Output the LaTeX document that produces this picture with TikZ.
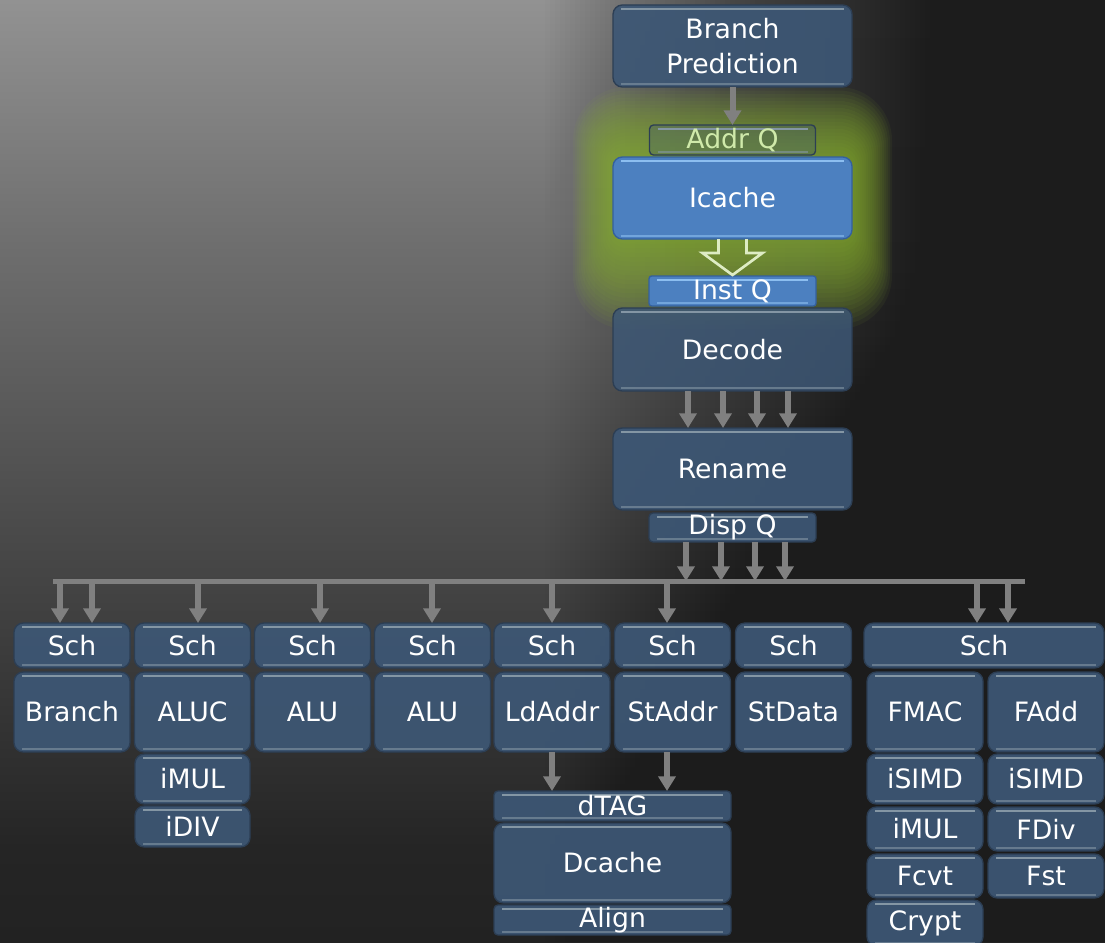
\documentclass[tikz,border=0pt]{standalone}
\usepackage{fontspec}
\setmainfont{DejaVu Sans}
\usetikzlibrary{arrows.meta,positioning,calc}

% --- FONDO ---
\definecolor{bgdark}{RGB}{28,28,28}
\pgfdeclareverticalshading{fondo}{100bp}{%
  color(0bp)=(rgb,255:red,34;green,34;blue,34); color(25bp)=(rgb,255:red,34;green,34;blue,34);
  color(30bp)=(rgb,255:red,37;green,37;blue,37); color(46bp)=(rgb,255:red,72;green,72;blue,72);
  color(62bp)=(rgb,255:red,110;green,110;blue,110); color(75bp)=(rgb,255:red,146;green,146;blue,146);
  color(100bp)=(rgb,255:red,146;green,146;blue,146)}

\begin{document}
\begin{tikzpicture}[
        x=0.75pt, y=-0.75pt, % un pixel del boceto
        >={Triangle[width=12.75pt,length=11pt]},
        font=\fontsize{20}{24}\selectfont,
        sz/.style 2 args={minimum width=#1*0.75pt, minimum height=#2*0.75pt},
        hl/.style={draw=blkhl, line width=1.6pt},
        blk/.style={draw=blkedge, line width=1pt, fill=blkfill, fill opacity=0.92,
            text opacity=1, rounded corners=7pt, text=white, inner sep=0pt, outer sep=0pt,
            path picture={
              \draw[hl] ([xshift=6pt,yshift=-3pt]path picture bounding box.north west)
                -- ([xshift=-6pt,yshift=-3pt]path picture bounding box.north east);
              \draw[hl, opacity=0.6] ([xshift=6pt,yshift=2pt]path picture bounding box.south west)
                -- ([xshift=-6pt,yshift=2pt]path picture bounding box.south east);}},
        blkq/.style={blk, rounded corners=3pt},
        cache/.style={blk, fill=cacheblue, draw=cacheedge, fill opacity=1,
            hl/.style={draw=cachehl, line width=1.6pt}},
        arr/.style={->, draw=arrgray, line width=4.5pt},
        bus/.style={draw=arrgray, line width=3.75pt}
    ]

        % --- COLORES ---
        \definecolor{blkfill}{RGB}{61,87,117}
        \definecolor{blkedge}{RGB}{44,62,84}
        \definecolor{blkhl}{RGB}{132,150,164}
        \definecolor{cacheblue}{RGB}{76,128,192}
        \definecolor{cacheedge}{RGB}{52,96,158}
        \definecolor{cachehl}{RGB}{140,190,240}
        \definecolor{glowgreen}{RGB}{140,180,50}
        \definecolor{addrtext}{RGB}{208,234,170}
        \definecolor{hollow}{RGB}{222,236,196}
        \definecolor{arrgray}{RGB}{128,128,128}

        \useasboundingbox (0,0) rectangle (1105,942);

        % --- FONDO ---
        \shade[shading=fondo] (0,0) rectangle (1105,942);
        % oscurecer hacia la derecha (rampa lineal)
        \foreach[evaluate=\i as \op using 1/(81-\i)] \i in {1,...,80}
            \fill[bgdark, opacity=\op] (540+5*\i,0) rectangle (1105,942);

        % --- BRILLO VERDE DEL ICACHE ---
        \foreach \g in {1,...,20}
            \fill[glowgreen, opacity=0.065, rounded corners=10pt+1.5pt*\g]
                (613-2*\g,157-3.5*\g) rectangle (852+2*\g,239+4.5*\g);

        % --- FRONT END ---
        \node[blk, sz={239}{82}, align=center, font=\fontsize{20}{26}\selectfont]
            (BP) at (732.5,46) {Branch\\Prediction};
        \node[blkq, sz={166}{30}, fill opacity=0.3, text=addrtext] (AddrQ) at (732.5,140) {Addr Q};
        \node[cache, sz={239}{82}] (Icache) at (732.5,198) {Icache};
        \node[cache, rounded corners=2pt, sz={167}{30}] (InstQ) at (732.5,291) {Inst Q};
        \node[blk, sz={239}{83}, fill opacity=0.85] (Decode) at (732.5,349.5) {Decode};
        \node[blk, sz={239}{82}] (Rename) at (732.5,469) {Rename};
        \node[blkq, sz={167}{29}] (DispQ) at (732.5,527.5) {Disp Q};

        \draw[arr] (BP.south) -- (AddrQ.north);
        % flecha hueca
        \draw[hollow, line width=2pt, line join=miter]
            ($(Icache.south)+(-14,0)$) -- ++(0,14) -- ++(-16,0) -- ($(InstQ.north)+(0,-1)$)
            -- ($(Icache.south)+(30,14)$) -- ++(-16,0) -- ++(0,-14);
        \foreach \x in {688,723,757,788}
            \draw[arr] (\x,0 |- Decode.south) -- (\x,0 |- Rename.north);

        % --- BUS DE DESPACHO ---
        \coordinate (busL) at (53,581);
        \coordinate (busR) at (1025,581);
        \foreach \x in {686,721,755,785}
            \draw[arr] (\x,0 |- DispQ.south) -- (\x,0 |- busL);
        \draw[bus] (busL) -- (busR);

        % --- UNIDADES ENTERAS ---
        \foreach \x/\nm/\lab in {72/Br/Branch, 192.5/Aluc/ALUC, 312.5/AluA/ALU,
                432.5/AluB/ALU, 552/Ld/LdAddr, 672.5/St/StAddr, 793.5/Sd/StData} {
            \node[blk, sz={116}{45}] (Sch\nm) at (\x,645.5) {Sch};
            \node[blk, sz={116}{80}] (\nm) at (\x,712) {\lab};
        }
        \node[blk, sz={115}{50}] (iMUL) at (192.5,779) {iMUL};
        \node[blk, sz={115}{41}] (iDIV) at (192.5,826.5) {iDIV};

        % --- MEMORIA ---
        \node[blkq, sz={237}{30}] (dTAG) at (612.5,806) {dTAG};
        \node[blk, sz={237}{80}] (Dcache) at (612.5,863) {Dcache};
        \node[blkq, sz={237}{30}] (Align) at (612.5,920) {Align};
        \draw[arr] (552,0 |- Ld.south) -- (552,0 |- dTAG.north);
        \draw[arr] (667,0 |- St.south) -- (667,0 |- dTAG.north);

        % --- COMA FLOTANTE ---
        \node[blk, sz={240}{45}] (SchFp) at (984,645.5) {Sch};
        \node[blk, sz={116}{80}] (FMAC) at (925,712) {FMAC};
        \node[blk, sz={116}{80}] (FAdd) at (1046,712) {FAdd};
        \node[blk, sz={116}{50}] (iSIMDa) at (925,779) {iSIMD};
        \node[blk, sz={116}{50}] (iSIMDb) at (1046,779) {iSIMD};
        \node[blk, sz={116}{44}] (iMULf) at (925,829) {iMUL};
        \node[blk, sz={116}{44}] (FDiv) at (1046,829) {FDiv};
        \node[blk, sz={116}{44}] (Fcvt) at (925,876) {Fcvt};
        \node[blk, sz={116}{44}] (Fst) at (1046,876) {Fst};
        \node[blk, sz={116}{46}] (Crypt) at (925,923) {Crypt};

        % --- DEL BUS A LOS PLANIFICADORES ---
        \foreach \x/\s in {60/SchBr, 92/SchBr, 198/SchAluc, 320/SchAluA, 432/SchAluB,
                552/SchLd, 667/SchSt, 977/SchFp, 1008/SchFp}
            \draw[arr] (\x,0 |- busL) -- (\x,0 |- \s.north);

\end{tikzpicture}
\end{document}
